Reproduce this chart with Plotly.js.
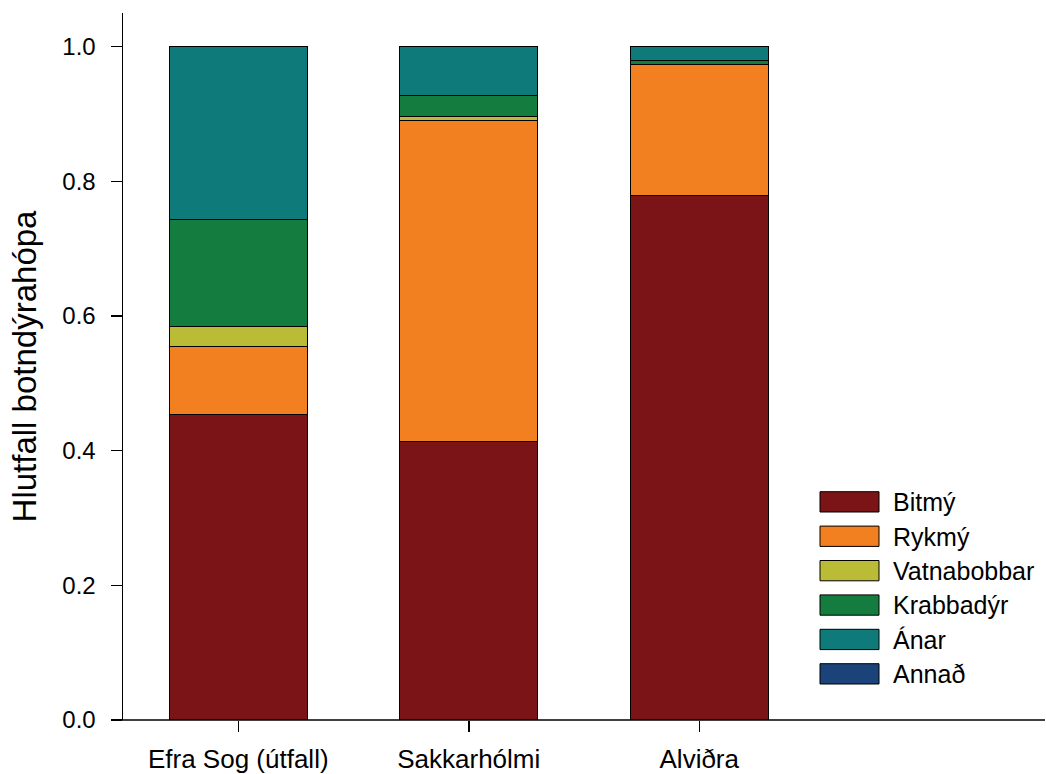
<!DOCTYPE html>
<html>
<head>
<meta charset="utf-8">
<script src="https://cdn.plot.ly/plotly-3.0.1.min.js"></script>
<style>html,body{margin:0;padding:0;background:#fff;}#chart{width:1046px;height:774px;}</style>
</head>
<body>
<div id="chart"></div>
<script>
const sites = ["Efra Sog (útfall)", "Sakkarhólmi", "Alviðra"];
const seriesNames = ["Bitmý", "Rykmý", "Vatnabobbar", "Krabbadýr", "Ánar", "Annað"];
const bitmy = [0.453, 0.413, 0.779];
const rykmy = [0.102, 0.478, 0.195];
const vatnabobbar = [0.030, 0.006, 0.000];
const krabbadyr = [0.159, 0.030, 0.006];
const anar = [0.256, 0.073, 0.020];
const annad = [0.000, 0.000, 0.000];
const seriesValues = [bitmy, rykmy, vatnabobbar, krabbadyr, anar, annad];
const colors = ["#7B1416", "#F38020", "#BBBC35", "#157C3F", "#0E7B7A", "#1B4379"];
const yTicks = [0, 0.2, 0.4, 0.6, 0.8, 1.0];
const yTickText = ["0.0", "0.2", "0.4", "0.6", "0.8", "1.0"];

const FONT = "Arial, 'Liberation Sans', sans-serif";

const traces = seriesNames.map((name, i) => ({
  type: "bar",
  name: name,
  x: sites,
  y: seriesValues[i],
  width: 0.6,
  marker: {color: colors[i], line: {color: "#000", width: 1}},
  showlegend: false,
  hovertemplate: "%{x}<br>" + name + ": %{y}<extra></extra>"
}));

// plot area geometry (px) used only for placing the custom legend
const W = 1046, H = 774;
const mL = 123, mR = 1, mT = 13, mB = 54;
const pw = W - mL - mR, ph = H - mT - mB;
const px2x = px => (px - mL) / pw;
const px2y = py => (H - mB - py) / ph;

const shapes = [];
const annotations = [];
// x-axis baseline extended slightly left of the y axis
shapes.push({type: "line", xref: "paper", yref: "paper", x0: px2x(112), x1: 1, y0: 0, y1: 0,
  line: {color: "#000", width: 1.5}, layer: "above"});

seriesNames.forEach((name, i) => {
  const top = 491.7 + i * 34.4;
  shapes.push({type: "rect", xref: "paper", yref: "paper",
    x0: px2x(820), x1: px2x(879), y0: px2y(top + 20.3), y1: px2y(top),
    fillcolor: colors[i], line: {color: "#000", width: 1}});
  annotations.push({xref: "paper", yref: "paper", x: px2x(891), y: px2y(top + 10.5),
    xanchor: "left", yanchor: "middle", text: name, showarrow: false,
    font: {family: FONT, size: 25, color: "#000"}});
});

const layout = {
  width: W, height: H,
  margin: {l: mL, r: mR, t: mT, b: mB, pad: 0},
  paper_bgcolor: "#fff", plot_bgcolor: "#fff",
  barmode: "stack",
  bargap: 0.4,
  font: {family: FONT, size: 24, color: "#000"},
  showlegend: false,
  xaxis: {
    type: "category",
    range: [-0.5, 3.5],
    showgrid: false, zeroline: false,
    showline: false,
    ticks: "outside", ticklen: 11, tickwidth: 1.5, tickcolor: "#000",
    ticklabelstandoff: 5,
    tickfont: {family: FONT, size: 26, color: "#000"}
  },
  yaxis: {
    range: [0, 1.05],
    showgrid: false, zeroline: false,
    showline: true, linecolor: "#000", linewidth: 1.5,
    ticks: "outside", ticklen: 11, tickwidth: 1.5, tickcolor: "#000",
    tickvals: yTicks, ticktext: yTickText,
    ticklabelstandoff: 10,
    tickfont: {family: FONT, size: 24, color: "#000"},
    title: {text: "Hlutfall botndýrahópa", standoff: 16, font: {family: FONT, size: 33, color: "#000"}}
  },
  shapes: shapes,
  annotations: annotations
};

Plotly.newPlot("chart", traces, layout, {displayModeBar: false, staticPlot: true});
</script>
</body>
</html>
